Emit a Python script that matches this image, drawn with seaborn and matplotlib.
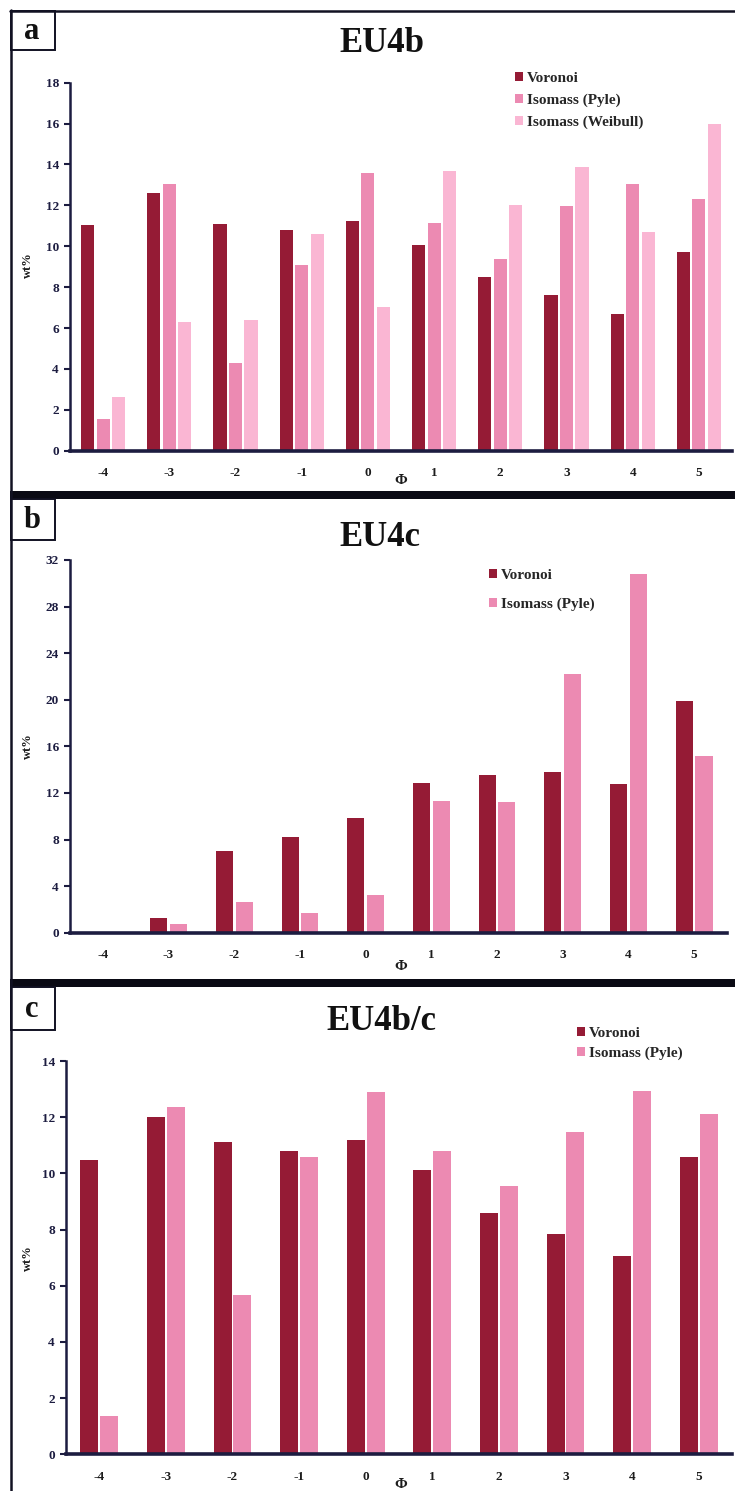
import numpy as np
import pandas as pd
import seaborn as sns
import matplotlib
matplotlib.use("Agg")
import matplotlib.pyplot as plt
from matplotlib.patches import Rectangle
from matplotlib.lines import Line2D

# ---------------- data ----------------
phi = ["-4", "-3", "-2", "-1", "0", "1", "2", "3", "4", "5"]

a_voronoi = [11.04, 12.59, 11.11, 10.80, 11.24, 10.06, 8.48, 7.60, 6.69, 9.74]
a_pyle    = [1.53, 13.05, 4.27, 9.08, 13.57, 11.15, 9.39, 11.99, 13.03, 12.30]
a_weibull = [2.64, 6.28, 6.39, 10.60, 7.05, 13.68, 12.02, 13.88, 10.70, 15.98]

b_voronoi = [0.0, 1.24, 7.01, 8.19, 9.82, 12.82, 13.54, 13.79, 12.76, 19.89]
b_pyle    = [0.0, 0.75, 2.66, 1.66, 3.24, 11.30, 11.25, 22.20, 30.79, 15.17]

c_voronoi = [10.47, 12.02, 11.13, 10.79, 11.19, 10.12, 8.58, 7.84, 7.07, 10.59]
c_pyle    = [1.36, 12.37, 5.67, 10.59, 12.90, 10.79, 9.55, 11.46, 12.93, 12.11]

series_names = ["Voronoi", "Isomass (Pyle)", "Isomass (Weibull)"]
titles = ["EU4b", "EU4c", "EU4b/c"]
panel_letters = ["a", "b", "c"]
yticks_a = [0, 2, 4, 6, 8, 10, 12, 14, 16, 18]
yticks_b = [0, 4, 8, 12, 16, 20, 24, 28, 32]
yticks_c = [0, 2, 4, 6, 8, 10, 12, 14]

colors = {"Voronoi": "#951B35", "Isomass (Pyle)": "#EC8AB2", "Isomass (Weibull)": "#FAB6D3"}

# ---------------- style ----------------
sns.set_theme(style="white")
plt.rcParams["font.family"] = ["Liberation Serif", "DejaVu Serif"]
plt.rcParams["font.weight"] = "bold"

W, H = 735, 1491
fig = plt.figure(figsize=(W / 100, H / 100), dpi=100)
fig.patch.set_facecolor("white")

def fx(x):
    return x / W

def fy(y):
    return 1 - y / H

def rect(left, right, top, bottom):
    return [left / W, 1 - bottom / H, (right - left) / W, (bottom - top) / H]

spine_col = "#1c1c40"

def make_panel(axrect, data, names, ylim, yticks, width, gap, leg_xy, leg_spacing, phi_xy):
    rows = []
    for name, vals in zip(names, data):
        for p, v in zip(phi, vals):
            rows.append({"phi": p, "wt": v, "series": name})
    df = pd.DataFrame(rows)
    ax = fig.add_axes(axrect)
    sns.barplot(data=df, x="phi", y="wt", hue="series", order=phi, hue_order=names,
                palette=[colors[n] for n in names], width=width, gap=gap,
                saturation=1, linewidth=0, errorbar=None, ax=ax)
    ax.set_xlim(-0.5, 9.5)
    ax.set_ylim(*ylim)
    ax.set_yticks(yticks)
    ax.set_yticklabels([str(t) for t in yticks], fontsize=9.5, fontweight="bold", color="#1c1c40")
    ax.set_xticks(range(len(phi)))
    ax.set_xticklabels(phi, fontsize=9.5, fontweight="bold", color="#1c1c1c")
    ax.tick_params(axis="x", length=0, pad=12)
    ax.tick_params(axis="y", length=4, width=1.5, color=spine_col, direction="out", pad=4, left=True)
    for s in ["top", "right"]:
        ax.spines[s].set_visible(False)
    ax.spines["left"].set_color(spine_col)
    ax.spines["left"].set_linewidth(1.8)
    ax.spines["bottom"].set_color(spine_col)
    ax.spines["bottom"].set_linewidth(2.6)
    ax.set_facecolor("white")
    ax.set_ylabel("")
    ax.set_xlabel("")
    fig.text(fx(phi_xy[0]), fy(phi_xy[1]), "Φ", ha="center", va="center",
             fontsize=11, fontweight="bold", color="#1c1c1c")
    handles, labels = ax.get_legend_handles_labels()
    ax.legend(handles, labels, loc="upper left", bbox_to_anchor=(fx(leg_xy[0]), fy(leg_xy[1])),
              bbox_transform=fig.transFigure, frameon=False, handlelength=0.55, handleheight=0.55,
              handletextpad=0.25, labelspacing=leg_spacing, borderaxespad=0, borderpad=0,
              prop={"weight": "bold", "size": 11})
    return ax

# panel a
make_panel(rect(70, 732, 82.7, 450.7), [a_voronoi, a_pyle, a_weibull], series_names,
           (0, 18), yticks_a, 0.70, 0.15, (515, 72), 0.55, (401, 481))
# panel b
make_panel(rect(70, 727, 560, 932.7), [b_voronoi, b_pyle], series_names[:2],
           (0, 32), yticks_b, 0.60, 0.13, (489, 569), 1.0, (401, 966))
# panel c
make_panel(rect(66, 732, 1061, 1454.3), [c_voronoi, c_pyle], series_names[:2],
           (0, 14), yticks_c, 0.60, 0.10, (577, 1027), 0.45, (401, 1485))

# y labels
for yc in [265, 746, 1258]:
    fig.text(fx(28), fy(yc), "wt%", rotation=90, ha="center", va="center",
             fontsize=9, fontweight="bold", color="#1c1c1c")

# titles
for t, (xc, yc) in zip(titles, [(382, 44), (380, 537), (381, 1021)]):
    fig.text(fx(xc), fy(yc), t, ha="center", va="center", fontsize=25, fontweight="bold", color="#111111")

# frames
fig.add_artist(Line2D([fx(10.5), fx(10.5)], [fy(10), fy(H)], transform=fig.transFigure,
                      color="#111122", lw=1.8))
fig.add_artist(Line2D([fx(10), fx(W)], [fy(11), fy(11)], transform=fig.transFigure,
                      color="#111122", lw=1.8))
for top, bot in [(491, 499), (979, 987)]:
    fig.add_artist(Rectangle((fx(10), fy(bot)), fx(W) - fx(10), fy(top) - fy(bot),
                             transform=fig.transFigure, facecolor="#0a0a14", edgecolor="none"))

# panel letter boxes
for letter, (top, bot) in zip(panel_letters, [(11, 50), (499, 540), (987, 1030)]):
    fig.add_artist(Rectangle((fx(10.5), fy(bot)), fx(55) - fx(10.5), fy(top) - fy(bot),
                             transform=fig.transFigure, facecolor="white", edgecolor="#111122", lw=1.4))
    fig.text(fx(32), fy((top + bot) / 2 + 1), letter, ha="center", va="center",
             fontsize=22, fontweight="bold", color="#111111")

fig.savefig("out.png", dpi=100)
